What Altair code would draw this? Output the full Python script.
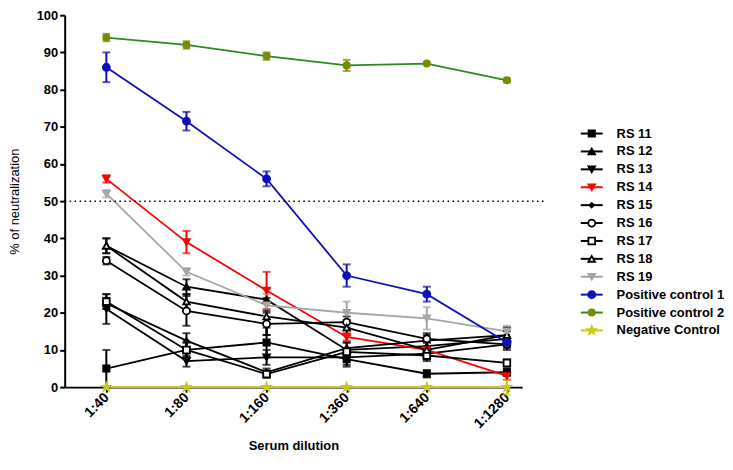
import altair as alt
import pandas as pd

dilutions = ["1:40", "1:80", "1:160", "1:360", "1:640", "1:1280"]
series = ["RS 11", "RS 12", "RS 13", "RS 14", "RS 15", "RS 16", "RS 17", "RS 18", "RS 19",
          "Positive control 1", "Positive control 2", "Negative Control"]

rs11 = [5, 10, 12, 7.5, 3.6, 4]
rs12 = [38, 27, 23.5, 10, 11, 13]
rs13 = [21, 7, 8, 8, 9, 11.5]
rs14 = [56, 39, 26, 13.5, 10, 3]
rs15 = [22.5, 12.5, 4, 10.5, 12.5, 14]
rs16 = [34, 20.5, 17, 17.5, 13, 11.5]
rs17 = [23, 10, 3.5, 9.5, 8.5, 6.5]
rs18 = [38, 23, 19, 16, 10, 14]
rs19 = [52, 31, 22, 20, 18.5, 15]
pos1 = [86, 71.5, 56, 30, 25, 12]
pos2 = [94, 92, 89, 86.5, 87, 82.5]
neg = [0, 0, 0, 0, 0, 0]

err11 = [5, 2, 4, 2, 1, 1]
err12 = [2, 2, 3, 2, 2, 2]
err13 = [4, 1.5, 2, 2, 2, 1.5]
err14 = [1, 3, 5, 1, 1, 1]
err15 = [1.5, 2, 1, 1.5, 2, 2]
err16 = [1, 4, 3, 1.5, 1, 1]
err17 = [2, 2, 1, 1, 1, 1]
err18 = [2, 2, 5, 2, 2, 2]
err19 = [1, 1, 3, 3, 3, 1.5]
errp1 = [4, 2.5, 2, 3, 2, 1]
errp2 = [1, 1, 1, 1.5, 0, 0.5]
errn = [0, 0, 0, 0, 0, 2]

values = [rs11, rs12, rs13, rs14, rs15, rs16, rs17, rs18, rs19, pos1, pos2, neg]
errors = [err11, err12, err13, err14, err15, err16, err17, err18, err19, errp1, errp2, errn]

line_colors = ["#000000"] * 3 + ["#ff0000"] + ["#000000"] * 4 + ["#a6a6a6", "#1010b8", "#2a8a1e", "#c8c81a"]
mark_colors = ["#000000"] * 3 + ["#ff0000"] + ["#000000"] * 4 + ["#a6a6a6", "#1010b8", "#7a8a00", "#c8c81a"]
open_marker = [False, False, False, False, False, True, True, True, False, False, False, False]
STAR = "M0,-1L0.235,-0.324L0.951,-0.309L0.38,0.124L0.588,0.809L0,0.4L-0.588,0.809L-0.38,0.124L-0.951,-0.309L-0.235,-0.324Z"
shapes = ["square", "triangle-up", "triangle-down", "triangle-down", "diamond", "circle", "square",
          "triangle-up", "triangle-down", "circle", "circle", STAR]
sizes = [40, 45, 45, 45, 20, 50, 45, 45, 45, 50, 40, 70]

rows = []
for si, name in enumerate(series):
    for di, lab in enumerate(dilutions):
        v = values[si][di]
        e = errors[si][di]
        rows.append({
            "series": name, "order": si, "idx": di, "dil": lab, "val": v,
            "lo": v - e, "hi": v + e,
            "lcol": line_colors[si], "mcol": mark_colors[si],
            "fcol": "white" if open_marker[si] else mark_colors[si],
            "shape": shapes[si], "size": sizes[si],
        })
df = pd.DataFrame(rows)

leg = pd.DataFrame({
    "series": series, "lcol": line_colors, "mcol": mark_colors,
    "fcol": ["white" if o else c for o, c in zip(open_marker, mark_colors)],
    "shape": shapes, "size": sizes,
})

W, H = 460, 374
FONT = "Liberation Sans"

label_expr = "[" + ",".join("'%s'" % d for d in dilutions) + "][datum.value]"

xscale = alt.Scale(domain=[-0.52, 5.19], nice=False, zero=False)
xaxis = alt.Axis(values=list(range(6)), labelExpr=label_expr, title="Serum dilution",
                 labelAngle=315, labelAlign="right", labelBaseline="middle", labelFontSize=14,
                 titlePadding=9, labelPadding=3, grid=False)
yscale = alt.Scale(domain=[0, 100], nice=False)
yaxis = alt.Axis(values=list(range(0, 101, 10)), title="% of neutralization",
                 titlePadding=15, labelPadding=2, grid=False)


def X(f):
    return alt.X(f, scale=xscale, axis=xaxis)


def Y(f):
    return alt.Y(f, scale=yscale, axis=yaxis)


base = alt.Chart(df)

lines = base.mark_line(strokeWidth=1.8).encode(
    x=X("idx:Q"), y=Y("val:Q"), detail="series:N", color=alt.Color("lcol:N", scale=None),
    order="idx:Q")

ref = alt.Chart(pd.DataFrame({"val": [50]})).mark_rule(
    color="#000", strokeDash=[1.5, 3.5], strokeWidth=1.5, clip=False
).encode(y=Y("val:Q"), x=alt.value(0), x2=alt.value(W + 22))

rules = base.mark_rule(strokeWidth=2).encode(
    x=X("idx:Q"), y=Y("lo:Q"), y2="hi:Q", color=alt.Color("mcol:N", scale=None))
cap_lo = base.transform_filter("datum.hi > datum.lo").mark_tick(orient="horizontal", thickness=2, size=8).encode(
    x=X("idx:Q"), y=Y("lo:Q"), color=alt.Color("mcol:N", scale=None))
cap_hi = base.transform_filter("datum.hi > datum.lo").mark_tick(orient="horizontal", thickness=2, size=8).encode(
    x=X("idx:Q"), y=Y("hi:Q"), color=alt.Color("mcol:N", scale=None))

points = base.mark_point(filled=True, strokeWidth=1.8, opacity=1).encode(
    x=X("idx:Q"), y=Y("val:Q"),
    fill=alt.Fill("fcol:N", scale=None),
    stroke=alt.Stroke("mcol:N", scale=None),
    shape=alt.Shape("shape:N", scale=None),
    size=alt.Size("size:Q", scale=None),
    order="order:Q")

main = alt.layer(lines, ref, rules, cap_lo, cap_hi, points).properties(width=W, height=H)

ly = alt.Y("series:N", sort=series, scale=alt.Scale(range=[110, 326], padding=0), axis=None)
lb = alt.Chart(leg)
leg_line = lb.mark_rule(strokeWidth=2).encode(
    y=ly, x=alt.value(36), x2=alt.value(58), color=alt.Color("lcol:N", scale=None))
leg_pt = lb.mark_point(filled=True, strokeWidth=1.8, opacity=1).encode(
    y=ly, x=alt.value(47),
    fill=alt.Fill("fcol:N", scale=None), stroke=alt.Stroke("mcol:N", scale=None),
    shape=alt.Shape("shape:N", scale=None), size=alt.Size("size:Q", scale=None))
leg_txt = lb.mark_text(align="left", baseline="middle", font=FONT, fontWeight="bold",
                       fontSize=13, color="#000").encode(
    y=ly, x=alt.value(72), text="series:N")
legend = alt.layer(leg_line, leg_pt, leg_txt).properties(width=180, height=H)

chart = (
    alt.hconcat(main, legend, spacing=0)
    .properties(padding=0, background="white")
    .configure_view(strokeWidth=0, stroke="transparent")
    .configure_axis(labelFont=FONT, labelFontWeight="bold", labelFontSize=13, labelColor="#000",
                    titleFont=FONT, titleFontSize=13, titleColor="#000",
                    tickColor="#000", tickSize=5, tickWidth=2, domainColor="#000", domainWidth=2,
                    labelOverlap=False)
    .configure_axisX(titleFontWeight="bold")
    .configure_axisY(titleFontWeight="normal")
)

chart.save("out.html", embed_options={"renderer": "svg", "actions": False})
